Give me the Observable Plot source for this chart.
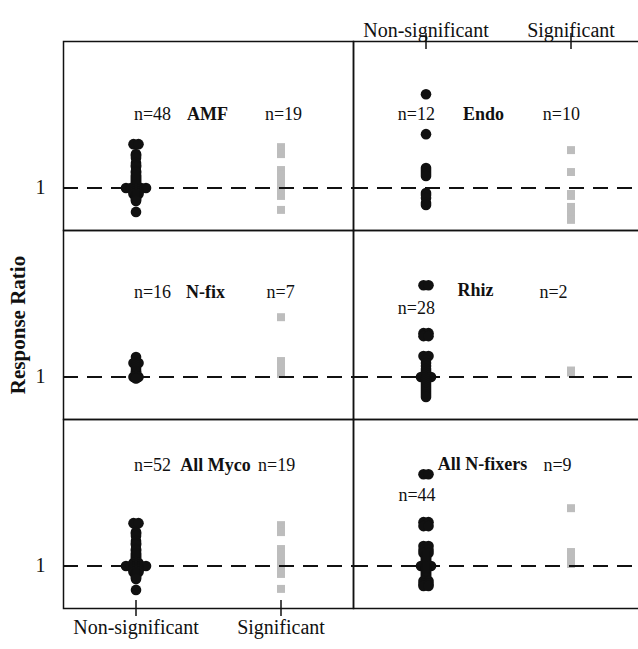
<!DOCTYPE html>
<html><head><meta charset="utf-8">
<script src="https://cdn.jsdelivr.net/npm/d3@7"></script>
<script src="https://cdn.jsdelivr.net/npm/@observablehq/plot@0.6"></script>
<style>html,body{margin:0;padding:0;background:#fff;overflow:hidden;}</style>
</head><body><div id="chart"></div>
<script>
// ---------------- data ----------------
const panelNames = ["AMF", "Endo", "N-fix", "Rhiz", "All Myco", "All N-fixers"];
const groups = ["Non-significant", "Significant"];
const yTicks = [1];

const amfNonSig = [1.44,1.44,1.34,1.33,1.32,1.30,1.25,1.23,1.22,1.21,1.17,1.16,1.15,1.13,1.12,
  1.11,1.10,1.09,1.08,1.07,1.06,1.05,1.04,1.03,1.02,1.01,1.00,1.00,1.00,1.00,1.00,
  0.99,0.98,0.98,0.97,0.96,0.96,0.95,0.94,0.94,0.93,0.92,0.91,0.90,0.89,0.88,0.87,0.76];
const amfSig = [1.41,1.39,1.37,1.35,1.34,1.18,1.16,1.14,1.10,1.08,1.06,1.04,1.02,1.00,0.99,0.97,0.95,0.92,0.78];
const endoNonSig = [1.94,1.54,1.20,1.18,1.16,1.14,1.12,0.95,0.93,0.90,0.85,0.83];
const endoSig = [1.38,1.16,0.94,0.92,0.81,0.78,0.75,0.72,0.70,0.68];
const nfixNonSig = [1.20,1.14,1.14,1.12,1.10,1.08,1.06,1.05,1.04,1.03,1.02,1.01,1.00,1.00,0.99,0.985];
const nfixSig = [1.60,1.16,1.13,1.10,1.07,1.05,1.03];
const rhizNonSig = [1.92,1.92,1.44,1.44,1.41,1.41,1.21,1.21,1.17,1.14,1.11,1.08,1.06,1.04,1.02,
  1.00,1.00,1.00,0.98,0.96,0.94,0.92,0.90,0.88,0.86,0.84,0.82,0.80];
const rhizSig = [1.065,1.045];
const allMycoNonSig = [1.43,1.43,1.34,1.33,1.32,1.30,1.25,1.23,1.22,1.21,1.17,1.16,1.15,1.13,1.12,
  1.11,1.10,1.09,1.08,1.07,1.06,1.05,1.04,1.03,1.03,1.02,1.01,1.01,1.00,1.00,1.00,1.00,1.00,
  0.99,0.99,0.98,0.98,0.97,0.97,0.96,0.96,0.95,0.94,0.94,0.93,0.92,0.91,0.90,0.89,0.88,0.87,0.76];
const allMycoSig = [1.41,1.39,1.37,1.35,1.34,1.17,1.14,1.13,1.11,1.08,1.05,1.03,1.02,1.00,0.98,0.96,0.94,0.92,0.77];
const allNfixNonSig = [1.92,1.92,1.44,1.44,1.40,1.40,1.20,1.20,1.16,1.16,1.13,1.13,1.11,1.10,1.09,
  1.08,1.07,1.06,1.05,1.04,1.03,1.02,1.01,1.00,1.00,1.00,0.99,0.98,0.97,0.96,0.95,0.94,0.93,
  0.92,0.91,0.90,0.89,0.88,0.85,0.85,0.82,0.82,0.80,0.80];
const allNfixSig = [1.58,1.14,1.12,1.10,1.08,1.06,1.04,1.03,1.02];

const nonSigValues = [amfNonSig, endoNonSig, nfixNonSig, rhizNonSig, allMycoNonSig, allNfixNonSig];
const sigValues = [amfSig, endoSig, nfixSig, rhizSig, allMycoSig, allNfixSig];
const nNonSig = [48, 12, 16, 28, 52, 44];
const nSig = [19, 10, 7, 2, 19, 9];

// ---------------- layout / build ----------------
const yDomain = [0.5733, 2.47];
const stackStep = 5 / 145; // horizontal stacking step for tied values
const points = [];
panelNames.forEach((name, i) => {
  [nonSigValues[i], sigValues[i]].forEach((vals, g) => {
    const counts = d3.rollup(vals, v => v.length, v => v);
    const seen = new Map();
    vals.forEach(v => {
      const k = counts.get(v), j = seen.get(v) || 0;
      seen.set(v, j + 1);
      points.push({panel: name, col: i % 2, row: Math.floor(i / 2), group: g, value: v, rank: j - (k - 1) / 2});
    });
  });
});

// annotation placement (x in group units, y in response-ratio units)
const annPos = [
  {nn: [0.114, 1.74], t: [0.493, 1.74], ns: [1.017, 1.74]},
  {nn: [-0.066, 1.74], t: [0.397, 1.74], ns: [0.934, 1.74]},
  {nn: [0.114, 1.85], t: [0.479, 1.85], ns: [0.997, 1.85]},
  {nn: [-0.066, 1.69], t: [0.341, 1.87], ns: [0.879, 1.85]},
  {nn: [0.114, 2.01], t: [0.548, 2.01], ns: [0.970, 2.01]},
  {nn: [-0.062, 1.71], t: [0.390, 2.02], ns: [0.907, 2.01]}
];
const nLabels = [], titleLabels = [];
panelNames.forEach((name, i) => {
  const col = i % 2, row = Math.floor(i / 2), p = annPos[i];
  nLabels.push({col, row, x: p.nn[0], y: p.nn[1], text: "n=" + nNonSig[i]});
  titleLabels.push({col, row, x: p.t[0], y: p.t[1], text: name});
  nLabels.push({col, row, x: p.ns[0], y: p.ns[1], text: "n=" + nSig[i]});
});

const topAxis = groups.map((g, i) => ({col: 1, row: 0, x: i, text: g}));
const bottomAxis = groups.map((g, i) => ({col: 0, row: 2, x: i, text: g}));
const yTickRows = [0, 1, 2].flatMap(r => yTicks.map(t => ({col: 0, row: r, y: t, text: String(t)})));
const tick = 0.08;

const font = "'Liberation Serif', 'Times New Roman', serif";
const chart = Plot.plot({
  width: 643, height: 649,
  marginLeft: 63, marginRight: 0, marginTop: 40, marginBottom: 40,
  style: {fontFamily: font, maxWidth: "none", background: "#fff"},
  fx: {domain: [0, 1], padding: 0, axis: null},
  fy: {domain: [0, 1, 2], padding: 0, axis: null},
  x: {domain: [-0.5, 1.5], axis: null},
  y: {domain: yDomain, axis: null},
  marks: [
    Plot.dot(points.filter(d => d.group === 1), {
      fx: "col", fy: "row", x: d => d.group + d.rank * stackStep, y: "value",
      symbol: "square", r: 4.5, fill: "#bdbdbd"
    }),
    Plot.ruleY(yTicks, {stroke: "#111", strokeWidth: 1.8, strokeDasharray: "15,9"}),
    Plot.dot(points.filter(d => d.group === 0), {
      fx: "col", fy: "row", x: d => d.group + d.rank * stackStep, y: "value",
      r: 5.3, fill: "#111"
    }),
    Plot.frame({stroke: "#111", strokeWidth: 1.5}),
    Plot.text(nLabels, {fx: "col", fy: "row", x: "x", y: "y", text: "text", fontSize: 18, fill: "#111"}),
    Plot.text(titleLabels, {fx: "col", fy: "row", x: "x", y: "y", text: "text", fontSize: 18, fontWeight: "bold", fill: "#111"}),
    Plot.ruleX(topAxis, {fx: "col", fy: "row", x: "x", y1: yDomain[1] - tick, y2: yDomain[1] + tick, stroke: "#111", strokeWidth: 1.5}),
    Plot.ruleX(bottomAxis, {fx: "col", fy: "row", x: "x", y1: yDomain[0] - tick, y2: yDomain[0] + tick, stroke: "#111", strokeWidth: 1.5}),
    Plot.text(topAxis, {fx: "col", fy: "row", x: "x", frameAnchor: "top", dy: -19, text: "text", fontSize: 20, fill: "#111"}),
    Plot.text(bottomAxis, {fx: "col", fy: "row", x: "x", frameAnchor: "bottom", dy: 25, text: "text", fontSize: 20, fill: "#111"}),
    Plot.text(yTickRows, {fx: "col", fy: "row", y: "y", frameAnchor: "left", textAnchor: "middle", dx: -23, text: "text", fontSize: 20, fill: "#111"}),
    Plot.text([{col: 0, row: 1, text: "Response Ratio"}], {fx: "col", fy: "row", frameAnchor: "left", textAnchor: "middle", dx: -45, rotate: -90,
      text: "text", fontSize: 21, fontWeight: "bold", fill: "#111"})
  ]
});
document.getElementById("chart").appendChild(chart);
</script>
</body></html>
